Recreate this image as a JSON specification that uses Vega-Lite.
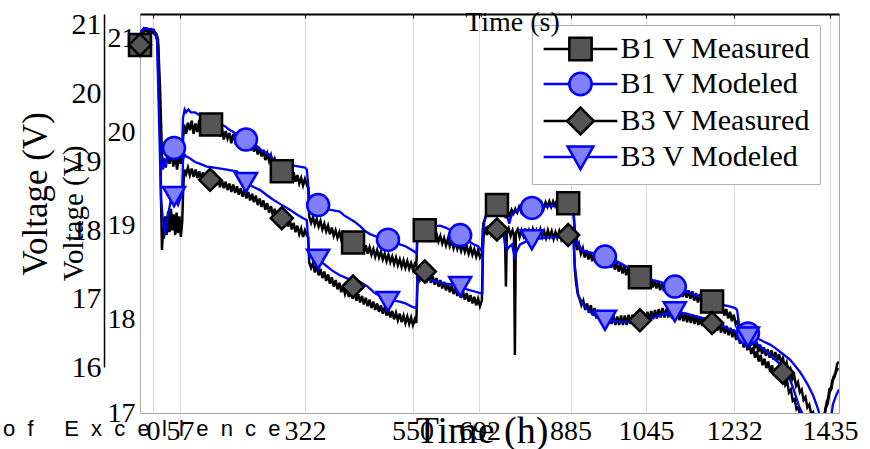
{
"$schema": "https://vega.github.io/schema/vega-lite/v6.json",
"width": 699,
"height": 399,
"autosize": {"type": "none"},
"padding": {"left": 140, "top": 14, "right": 31, "bottom": 36},
"background": "white",
"config": {
  "font": "Liberation Serif",
  "view": {"stroke": "#a8a8a8", "strokeWidth": 1},
  "axis": {"labelColor": "black", "titleColor": "black", "titleFontWeight": "normal", "labelFont": "Liberation Serif", "titleFont": "Liberation Serif"}
},
"title": {"text": "o\u00a0\u00a0f\u00a0\u00a0\u00a0\u00a0\u00a0E\u00a0\u00a0x\u00a0\u00a0c\u00a0\u00a0e\u00a0\u00a0l\u00a0\u00a0l\u00a0\u00a0e\u00a0\u00a0n\u00a0\u00a0c\u00a0\u00a0e", "orient": "bottom", "anchor": "start", "frame": "group", "dx": -137, "offset": -14, "font": "Liberation Sans", "fontSize": 22, "fontWeight": "normal", "color": "black", "baseline": "alphabetic"},
"datasets": {
"b1meas": [
{"t":-27.6,"v":20.93},{"t":-22,"v":21.06},{"t":-16,"v":21.10},{"t":-10,"v":21.08},{"t":-4,"v":21.10},{"t":2,"v":21.07},{"t":7,"v":21.05},{"t":10.6,"v":20.99},{"t":15,"v":20.45},{"t":18,"v":19.92},{"t":19.5,"v":19.65},{"t":23,"v":19.72},{"t":27,"v":19.62},{"t":31,"v":19.78},{"t":35,"v":19.66},{"t":39,"v":19.80},{"t":43,"v":19.63},{"t":47,"v":19.76},{"t":51,"v":19.60},{"t":55,"v":19.75},{"t":59,"v":19.66},{"t":62,"v":19.80},{"t":63.6,"v":19.92},{"t":66,"v":20.08},{"t":70,"v":19.98},{"t":74,"v":20.10},{"t":78,"v":20.02},{"t":82,"v":20.12},{"t":86,"v":19.98},{"t":90,"v":20.09},{"t":94,"v":20.00},{"t":98,"v":20.13},{"t":102,"v":19.97},{"t":106,"v":20.10},{"t":110,"v":20.03},{"t":114,"v":20.11},{"t":118,"v":19.99},{"t":122,"v":20.08},{"t":126,"v":20.02},{"t":130,"v":20.07},{"t":134,"v":19.96},{"t":138,"v":20.05},{"t":142,"v":19.95},{"t":146,"v":20.04},{"t":150,"v":19.92},{"t":154,"v":20.01},{"t":158,"v":19.93},{"t":162,"v":19.99},{"t":166,"v":19.88},{"t":170,"v":19.98},{"t":174,"v":19.90},{"t":178,"v":19.96},{"t":182,"v":19.86},{"t":186,"v":19.95},{"t":190,"v":19.85},{"t":194,"v":19.92},{"t":198,"v":19.82},{"t":202,"v":19.90},{"t":206,"v":19.80},{"t":210,"v":19.88},{"t":214,"v":19.79},{"t":218,"v":19.86},{"t":222,"v":19.76},{"t":226,"v":19.83},{"t":230,"v":19.74},{"t":234,"v":19.81},{"t":238,"v":19.70},{"t":242,"v":19.77},{"t":246,"v":19.69},{"t":250,"v":19.75},{"t":254,"v":19.65},{"t":258,"v":19.71},{"t":262,"v":19.63},{"t":266,"v":19.69},{"t":270,"v":19.58},{"t":274,"v":19.64},{"t":278,"v":19.55},{"t":282,"v":19.62},{"t":286,"v":19.52},{"t":290,"v":19.59},{"t":294,"v":19.50},{"t":298,"v":19.57},{"t":302,"v":19.47},{"t":306,"v":19.54},{"t":310,"v":19.45},{"t":314,"v":19.51},{"t":318,"v":19.43},{"t":322,"v":19.50},{"t":326,"v":19.44},{"t":329,"v":19.40},{"t":331,"v":19.10},{"t":335,"v":19.03},{"t":339,"v":19.09},{"t":343,"v":19.01},{"t":347,"v":19.07},{"t":351,"v":18.99},{"t":355,"v":19.05},{"t":359,"v":18.96},{"t":363,"v":19.02},{"t":367,"v":18.94},{"t":371,"v":19.00},{"t":375,"v":18.91},{"t":379,"v":18.98},{"t":383,"v":18.89},{"t":387,"v":18.95},{"t":391,"v":18.87},{"t":395,"v":18.93},{"t":399,"v":18.85},{"t":403,"v":18.91},{"t":407,"v":18.83},{"t":411,"v":18.89},{"t":415,"v":18.80},{"t":419,"v":18.87},{"t":423,"v":18.79},{"t":427,"v":18.84},{"t":431,"v":18.76},{"t":435,"v":18.83},{"t":439,"v":18.74},{"t":443,"v":18.81},{"t":447,"v":18.72},{"t":451,"v":18.79},{"t":455,"v":18.70},{"t":459,"v":18.77},{"t":463,"v":18.69},{"t":467,"v":18.75},{"t":471,"v":18.67},{"t":475,"v":18.74},{"t":479,"v":18.66},{"t":483,"v":18.72},{"t":487,"v":18.64},{"t":491,"v":18.70},{"t":495,"v":18.62},{"t":499,"v":18.69},{"t":503,"v":18.61},{"t":507,"v":18.67},{"t":511,"v":18.59},{"t":515,"v":18.66},{"t":519,"v":18.58},{"t":523,"v":18.64},{"t":527,"v":18.56},{"t":531,"v":18.63},{"t":535,"v":18.55},{"t":539,"v":18.62},{"t":543,"v":18.54},{"t":547,"v":18.60},{"t":551,"v":18.53},{"t":555,"v":18.59},{"t":558,"v":18.56},{"t":561,"v":18.97},{"t":565,"v":18.92},{"t":569,"v":18.98},{"t":573,"v":18.90},{"t":577,"v":18.96},{"t":581,"v":18.88},{"t":585,"v":18.94},{"t":589,"v":18.86},{"t":593,"v":18.93},{"t":597,"v":18.84},{"t":601,"v":18.91},{"t":605,"v":18.83},{"t":609,"v":18.89},{"t":613,"v":18.81},{"t":617,"v":18.87},{"t":621,"v":18.79},{"t":625,"v":18.86},{"t":629,"v":18.78},{"t":633,"v":18.84},{"t":637,"v":18.76},{"t":641,"v":18.83},{"t":645,"v":18.75},{"t":649,"v":18.81},{"t":653,"v":18.73},{"t":657,"v":18.80},{"t":661,"v":18.72},{"t":665,"v":18.78},{"t":669,"v":18.70},{"t":673,"v":18.77},{"t":677,"v":18.69},{"t":681,"v":18.75},{"t":685,"v":18.67},{"t":689,"v":18.74},{"t":693,"v":18.66},{"t":697,"v":18.70},{"t":700,"v":19.02},{"t":704,"v":19.08},{"t":708,"v":19.15},{"t":712,"v":19.20},{"t":716,"v":19.17},{"t":720,"v":19.24},{"t":724,"v":19.19},{"t":728,"v":19.25},{"t":732,"v":19.20},{"t":736,"v":19.22},{"t":740,"v":19.15},{"t":744,"v":19.18},{"t":748,"v":19.08},{"t":752,"v":19.15},{"t":756,"v":19.11},{"t":760,"v":19.17},{"t":764,"v":19.13},{"t":768,"v":19.18},{"t":772,"v":19.14},{"t":776,"v":19.20},{"t":780,"v":19.15},{"t":784,"v":19.21},{"t":788,"v":19.16},{"t":792,"v":19.22},{"t":796,"v":19.17},{"t":800,"v":19.23},{"t":804,"v":19.18},{"t":808,"v":19.24},{"t":812,"v":19.18},{"t":816,"v":19.25},{"t":820,"v":19.19},{"t":824,"v":19.24},{"t":828,"v":19.18},{"t":832,"v":19.25},{"t":836,"v":19.20},{"t":840,"v":19.26},{"t":844,"v":19.20},{"t":848,"v":19.26},{"t":852,"v":19.21},{"t":856,"v":19.27},{"t":860,"v":19.21},{"t":864,"v":19.26},{"t":868,"v":19.22},{"t":872,"v":19.27},{"t":876,"v":19.21},{"t":880,"v":19.26},{"t":884,"v":19.22},{"t":888,"v":19.23},{"t":891,"v":19.18},{"t":895,"v":18.85},{"t":899,"v":18.74},{"t":903,"v":18.80},{"t":907,"v":18.70},{"t":911,"v":18.76},{"t":915,"v":18.66},{"t":919,"v":18.74},{"t":923,"v":18.64},{"t":927,"v":18.72},{"t":931,"v":18.62},{"t":935,"v":18.70},{"t":939,"v":18.61},{"t":943,"v":18.69},{"t":947,"v":18.60},{"t":951,"v":18.68},{"t":955,"v":18.58},{"t":959,"v":18.67},{"t":963,"v":18.57},{"t":967,"v":18.65},{"t":971,"v":18.55},{"t":975,"v":18.63},{"t":979,"v":18.53},{"t":983,"v":18.61},{"t":987,"v":18.51},{"t":991,"v":18.59},{"t":995,"v":18.49},{"t":999,"v":18.57},{"t":1003,"v":18.47},{"t":1007,"v":18.55},{"t":1011,"v":18.45},{"t":1015,"v":18.53},{"t":1019,"v":18.43},{"t":1023,"v":18.51},{"t":1027,"v":18.41},{"t":1031,"v":18.48},{"t":1035,"v":18.40},{"t":1039,"v":18.47},{"t":1043,"v":18.38},{"t":1047,"v":18.45},{"t":1051,"v":18.36},{"t":1055,"v":18.44},{"t":1059,"v":18.34},{"t":1063,"v":18.42},{"t":1067,"v":18.33},{"t":1071,"v":18.40},{"t":1075,"v":18.31},{"t":1079,"v":18.39},{"t":1083,"v":18.30},{"t":1087,"v":18.37},{"t":1091,"v":18.28},{"t":1095,"v":18.36},{"t":1099,"v":18.27},{"t":1103,"v":18.34},{"t":1107,"v":18.26},{"t":1111,"v":18.34},{"t":1115,"v":18.25},{"t":1119,"v":18.33},{"t":1123,"v":18.24},{"t":1127,"v":18.32},{"t":1131,"v":18.23},{"t":1135,"v":18.31},{"t":1139,"v":18.22},{"t":1143,"v":18.30},{"t":1147,"v":18.20},{"t":1151,"v":18.28},{"t":1155,"v":18.18},{"t":1159,"v":18.27},{"t":1163,"v":18.17},{"t":1167,"v":18.25},{"t":1171,"v":18.15},{"t":1175,"v":18.23},{"t":1179,"v":18.14},{"t":1183,"v":18.22},{"t":1187,"v":18.12},{"t":1191,"v":18.20},{"t":1195,"v":18.10},{"t":1199,"v":18.17},{"t":1203,"v":18.07},{"t":1207,"v":18.14},{"t":1211,"v":18.04},{"t":1215,"v":18.11},{"t":1219,"v":18.01},{"t":1223,"v":18.08},{"t":1227,"v":17.98},{"t":1231,"v":18.05},{"t":1235,"v":17.95},{"t":1239,"v":17.98},{"t":1243,"v":17.86},{"t":1247,"v":17.91},{"t":1251,"v":17.80},{"t":1255,"v":17.87},{"t":1259,"v":17.76},{"t":1263,"v":17.83},{"t":1267,"v":17.72},{"t":1271,"v":17.79},{"t":1275,"v":17.69},{"t":1279,"v":17.76},{"t":1283,"v":17.65},{"t":1287,"v":17.73},{"t":1291,"v":17.63},{"t":1295,"v":17.70},{"t":1299,"v":17.61},{"t":1303,"v":17.68},{"t":1307,"v":17.59},{"t":1311,"v":17.67},{"t":1315,"v":17.57},{"t":1319,"v":17.65},{"t":1323,"v":17.56},{"t":1327,"v":17.63},{"t":1331,"v":17.54},{"t":1335,"v":17.59},{"t":1339,"v":17.49},{"t":1343,"v":17.54},{"t":1347,"v":17.43},{"t":1351,"v":17.47},{"t":1355,"v":17.36},{"t":1359,"v":17.40},{"t":1363,"v":17.29},{"t":1367,"v":17.33},{"t":1371,"v":17.22},{"t":1375,"v":17.25},{"t":1379,"v":17.14},{"t":1383,"v":17.17},{"t":1387,"v":17.06},{"t":1391,"v":17.09},{"t":1395,"v":16.99},{"t":1399,"v":17.01},{"t":1403,"v":16.91},{"t":1407,"v":16.93},{"t":1411,"v":16.83},{"t":1415,"v":16.78},{"t":1419,"v":16.82},{"t":1422,"v":16.93},{"t":1426,"v":17.05},{"t":1430,"v":17.10},{"t":1434,"v":17.22},{"t":1438,"v":17.26},{"t":1442,"v":17.38},{"t":1446,"v":17.42},{"t":1450,"v":17.52},{"t":1453,"v":17.55}
],
"b1mod": [
{"t":-27.6,"v":21.06},{"t":-19,"v":21.11},{"t":-10,"v":21.10},{"t":2,"v":21.09},{"t":8.5,"v":20.99},{"t":12.7,"v":20.34},{"t":17,"v":19.70},{"t":21.2,"v":19.60},{"t":24,"v":19.70},{"t":27.6,"v":19.66},{"t":32,"v":19.74},{"t":36,"v":19.76},{"t":40,"v":19.80},{"t":44.5,"v":19.81},{"t":49,"v":19.78},{"t":53,"v":19.79},{"t":57,"v":19.82},{"t":61.5,"v":19.81},{"t":63.6,"v":20.15},{"t":67,"v":20.24},{"t":70,"v":20.21},{"t":75,"v":20.24},{"t":80,"v":20.21},{"t":89,"v":20.21},{"t":95,"v":20.19},{"t":100,"v":20.18},{"t":110,"v":20.15},{"t":120,"v":20.14},{"t":131,"v":20.13},{"t":140,"v":20.09},{"t":153,"v":20.06},{"t":160,"v":20.03},{"t":174,"v":19.99},{"t":185,"v":19.95},{"t":197,"v":19.92},{"t":205,"v":19.90},{"t":213,"v":19.86},{"t":223,"v":19.84},{"t":230,"v":19.80},{"t":240,"v":19.78},{"t":248,"v":19.75},{"t":255,"v":19.71},{"t":262,"v":19.69},{"t":273,"v":19.68},{"t":285,"v":19.66},{"t":299,"v":19.64},{"t":310,"v":19.63},{"t":322,"v":19.62},{"t":326,"v":19.60},{"t":331,"v":19.32},{"t":340,"v":19.27},{"t":350,"v":19.22},{"t":360,"v":19.20},{"t":375,"v":19.17},{"t":385,"v":19.16},{"t":396,"v":19.15},{"t":405,"v":19.11},{"t":415,"v":19.08},{"t":428,"v":19.04},{"t":440,"v":18.99},{"t":450,"v":18.94},{"t":460,"v":18.91},{"t":470,"v":18.89},{"t":480,"v":18.87},{"t":498,"v":18.85},{"t":510,"v":18.82},{"t":523,"v":18.80},{"t":535,"v":18.78},{"t":545,"v":18.75},{"t":555,"v":18.72},{"t":559,"v":18.70},{"t":560,"v":18.93},{"t":568,"v":18.96},{"t":576,"v":18.98},{"t":590,"v":18.99},{"t":608,"v":19.00},{"t":620,"v":18.98},{"t":635,"v":18.94},{"t":651,"v":18.90},{"t":665,"v":18.85},{"t":680,"v":18.80},{"t":689,"v":18.78},{"t":695,"v":18.74},{"t":699,"v":18.74},{"t":702,"v":19.04},{"t":706,"v":19.10},{"t":710,"v":19.12},{"t":720,"v":19.13},{"t":735,"v":19.13},{"t":746,"v":19.13},{"t":752,"v":19.08},{"t":755,"v":19.02},{"t":758,"v":19.08},{"t":761,"v":19.12},{"t":766,"v":19.14},{"t":772,"v":19.17},{"t":785,"v":19.18},{"t":803,"v":19.19},{"t":820,"v":19.20},{"t":841,"v":19.21},{"t":860,"v":19.21},{"t":884,"v":19.22},{"t":890,"v":19.20},{"t":894,"v":18.96},{"t":901,"v":18.80},{"t":911,"v":18.73},{"t":930,"v":18.71},{"t":945,"v":18.69},{"t":958,"v":18.67},{"t":975,"v":18.64},{"t":990,"v":18.60},{"t":1005,"v":18.56},{"t":1020,"v":18.50},{"t":1032,"v":18.46},{"t":1050,"v":18.43},{"t":1075,"v":18.40},{"t":1090,"v":18.37},{"t":1106,"v":18.35},{"t":1125,"v":18.31},{"t":1140,"v":18.28},{"t":1159,"v":18.24},{"t":1180,"v":18.20},{"t":1202,"v":18.16},{"t":1220,"v":18.14},{"t":1234,"v":18.12},{"t":1238,"v":18.10},{"t":1242,"v":17.95},{"t":1246,"v":17.88},{"t":1255,"v":17.86},{"t":1265,"v":17.83},{"t":1280,"v":17.80},{"t":1295,"v":17.76},{"t":1308,"v":17.73},{"t":1320,"v":17.69},{"t":1335,"v":17.63},{"t":1350,"v":17.57},{"t":1360,"v":17.51},{"t":1371,"v":17.44},{"t":1380,"v":17.37},{"t":1388,"v":17.30},{"t":1395,"v":17.23},{"t":1399,"v":17.19},{"t":1404,"v":17.12},{"t":1409,"v":17.05},{"t":1416,"v":16.93},{"t":1424,"v":16.75},{"t":1430,"v":16.80},{"t":1435,"v":16.87},{"t":1441,"v":17.09},{"t":1448,"v":17.19},{"t":1454,"v":17.25}
],
"b3meas": [
{"t":-27.6,"v":20.93},{"t":-22,"v":21.04},{"t":-16,"v":21.09},{"t":-10,"v":21.06},{"t":-4,"v":21.08},{"t":2,"v":21.05},{"t":7,"v":21.03},{"t":10.6,"v":20.93},{"t":15,"v":20.13},{"t":17,"v":19.28},{"t":19,"v":18.74},{"t":21,"v":18.98},{"t":23,"v":18.86},{"t":26,"v":19.10},{"t":29,"v":18.90},{"t":32,"v":19.15},{"t":35,"v":18.93},{"t":38,"v":19.18},{"t":41,"v":18.95},{"t":44,"v":19.12},{"t":47,"v":18.90},{"t":50,"v":19.14},{"t":53,"v":18.92},{"t":56,"v":19.10},{"t":59,"v":18.88},{"t":62,"v":19.05},{"t":63.6,"v":19.33},{"t":66,"v":19.60},{"t":70,"v":19.55},{"t":74,"v":19.62},{"t":78,"v":19.54},{"t":82,"v":19.61},{"t":86,"v":19.52},{"t":90,"v":19.60},{"t":94,"v":19.51},{"t":98,"v":19.58},{"t":102,"v":19.49},{"t":106,"v":19.57},{"t":110,"v":19.48},{"t":114,"v":19.55},{"t":118,"v":19.46},{"t":122,"v":19.53},{"t":126,"v":19.44},{"t":130,"v":19.52},{"t":134,"v":19.43},{"t":138,"v":19.50},{"t":142,"v":19.41},{"t":146,"v":19.49},{"t":150,"v":19.40},{"t":154,"v":19.47},{"t":158,"v":19.38},{"t":162,"v":19.45},{"t":166,"v":19.36},{"t":170,"v":19.44},{"t":174,"v":19.35},{"t":178,"v":19.42},{"t":182,"v":19.33},{"t":186,"v":19.40},{"t":190,"v":19.31},{"t":194,"v":19.38},{"t":198,"v":19.29},{"t":202,"v":19.36},{"t":206,"v":19.27},{"t":210,"v":19.34},{"t":214,"v":19.25},{"t":218,"v":19.32},{"t":222,"v":19.22},{"t":226,"v":19.29},{"t":230,"v":19.20},{"t":234,"v":19.27},{"t":238,"v":19.17},{"t":242,"v":19.24},{"t":246,"v":19.14},{"t":250,"v":19.21},{"t":254,"v":19.11},{"t":258,"v":19.18},{"t":262,"v":19.08},{"t":266,"v":19.15},{"t":270,"v":19.05},{"t":274,"v":19.12},{"t":278,"v":19.02},{"t":282,"v":19.09},{"t":286,"v":18.99},{"t":290,"v":19.06},{"t":294,"v":18.96},{"t":298,"v":19.03},{"t":302,"v":18.93},{"t":306,"v":19.00},{"t":310,"v":18.91},{"t":314,"v":18.97},{"t":318,"v":18.88},{"t":322,"v":18.95},{"t":326,"v":18.90},{"t":329,"v":18.88},{"t":331,"v":18.61},{"t":335,"v":18.55},{"t":339,"v":18.60},{"t":343,"v":18.50},{"t":347,"v":18.57},{"t":351,"v":18.47},{"t":355,"v":18.54},{"t":359,"v":18.44},{"t":363,"v":18.51},{"t":367,"v":18.41},{"t":371,"v":18.48},{"t":375,"v":18.38},{"t":379,"v":18.45},{"t":383,"v":18.35},{"t":387,"v":18.42},{"t":391,"v":18.32},{"t":395,"v":18.39},{"t":399,"v":18.29},{"t":403,"v":18.36},{"t":407,"v":18.27},{"t":411,"v":18.33},{"t":415,"v":18.24},{"t":419,"v":18.31},{"t":423,"v":18.22},{"t":427,"v":18.29},{"t":431,"v":18.20},{"t":435,"v":18.27},{"t":439,"v":18.18},{"t":443,"v":18.25},{"t":447,"v":18.16},{"t":451,"v":18.23},{"t":455,"v":18.14},{"t":459,"v":18.21},{"t":463,"v":18.12},{"t":467,"v":18.19},{"t":471,"v":18.10},{"t":475,"v":18.17},{"t":479,"v":18.08},{"t":483,"v":18.15},{"t":487,"v":18.06},{"t":491,"v":18.13},{"t":495,"v":18.04},{"t":499,"v":18.11},{"t":503,"v":18.02},{"t":507,"v":18.09},{"t":511,"v":18.00},{"t":515,"v":18.07},{"t":519,"v":17.99},{"t":523,"v":18.06},{"t":527,"v":17.97},{"t":531,"v":18.04},{"t":535,"v":17.96},{"t":539,"v":18.03},{"t":543,"v":17.95},{"t":547,"v":18.02},{"t":551,"v":17.94},{"t":555,"v":18.00},{"t":558,"v":17.96},{"t":561,"v":18.47},{"t":565,"v":18.42},{"t":569,"v":18.50},{"t":573,"v":18.44},{"t":577,"v":18.52},{"t":581,"v":18.42},{"t":585,"v":18.48},{"t":589,"v":18.39},{"t":593,"v":18.46},{"t":597,"v":18.37},{"t":601,"v":18.44},{"t":605,"v":18.35},{"t":609,"v":18.42},{"t":613,"v":18.33},{"t":617,"v":18.40},{"t":621,"v":18.31},{"t":625,"v":18.38},{"t":629,"v":18.29},{"t":633,"v":18.36},{"t":637,"v":18.27},{"t":641,"v":18.34},{"t":645,"v":18.25},{"t":649,"v":18.32},{"t":653,"v":18.23},{"t":657,"v":18.30},{"t":661,"v":18.21},{"t":665,"v":18.28},{"t":669,"v":18.19},{"t":673,"v":18.26},{"t":677,"v":18.17},{"t":681,"v":18.24},{"t":685,"v":18.15},{"t":689,"v":18.22},{"t":693,"v":18.14},{"t":697,"v":18.20},{"t":700,"v":18.88},{"t":704,"v":18.97},{"t":708,"v":18.90},{"t":712,"v":18.99},{"t":716,"v":18.92},{"t":720,"v":19.00},{"t":724,"v":18.93},{"t":728,"v":18.99},{"t":732,"v":18.92},{"t":736,"v":18.98},{"t":740,"v":18.91},{"t":744,"v":18.96},{"t":746,"v":18.92},{"t":748,"v":18.35},{"t":750,"v":18.92},{"t":754,"v":18.97},{"t":758,"v":18.89},{"t":762,"v":18.95},{"t":765,"v":18.90},{"t":767,"v":17.62},{"t":769,"v":18.92},{"t":773,"v":18.96},{"t":777,"v":18.88},{"t":781,"v":18.95},{"t":785,"v":18.89},{"t":789,"v":18.97},{"t":793,"v":18.88},{"t":797,"v":18.95},{"t":801,"v":18.89},{"t":805,"v":18.96},{"t":809,"v":18.88},{"t":813,"v":18.95},{"t":817,"v":18.89},{"t":821,"v":18.96},{"t":825,"v":18.88},{"t":829,"v":18.94},{"t":833,"v":18.87},{"t":837,"v":18.95},{"t":841,"v":18.88},{"t":845,"v":18.94},{"t":849,"v":18.86},{"t":853,"v":18.93},{"t":857,"v":18.87},{"t":861,"v":18.94},{"t":865,"v":18.86},{"t":869,"v":18.93},{"t":873,"v":18.86},{"t":877,"v":18.92},{"t":881,"v":18.85},{"t":885,"v":18.91},{"t":889,"v":18.84},{"t":892,"v":18.82},{"t":894,"v":18.53},{"t":897,"v":18.38},{"t":900,"v":18.28},{"t":904,"v":18.22},{"t":908,"v":18.15},{"t":912,"v":18.20},{"t":916,"v":18.10},{"t":920,"v":18.17},{"t":924,"v":18.07},{"t":928,"v":18.15},{"t":932,"v":18.04},{"t":936,"v":18.12},{"t":940,"v":18.01},{"t":944,"v":18.10},{"t":948,"v":17.99},{"t":952,"v":18.08},{"t":956,"v":17.97},{"t":960,"v":18.06},{"t":964,"v":17.96},{"t":968,"v":18.05},{"t":972,"v":17.95},{"t":976,"v":18.04},{"t":980,"v":17.94},{"t":984,"v":18.03},{"t":988,"v":17.94},{"t":992,"v":18.04},{"t":996,"v":17.94},{"t":1000,"v":18.04},{"t":1004,"v":17.94},{"t":1008,"v":18.05},{"t":1012,"v":17.95},{"t":1016,"v":18.05},{"t":1020,"v":17.95},{"t":1024,"v":18.06},{"t":1028,"v":17.96},{"t":1032,"v":18.04},{"t":1036,"v":17.97},{"t":1040,"v":18.07},{"t":1044,"v":17.98},{"t":1048,"v":18.08},{"t":1052,"v":17.99},{"t":1056,"v":18.09},{"t":1060,"v":18.00},{"t":1064,"v":18.10},{"t":1068,"v":18.01},{"t":1072,"v":18.11},{"t":1076,"v":18.02},{"t":1080,"v":18.12},{"t":1084,"v":18.02},{"t":1088,"v":18.11},{"t":1092,"v":18.02},{"t":1096,"v":18.10},{"t":1100,"v":18.01},{"t":1104,"v":18.10},{"t":1108,"v":18.00},{"t":1112,"v":18.09},{"t":1116,"v":17.99},{"t":1120,"v":18.08},{"t":1124,"v":17.98},{"t":1128,"v":18.07},{"t":1132,"v":17.97},{"t":1136,"v":18.06},{"t":1140,"v":17.96},{"t":1144,"v":18.05},{"t":1148,"v":17.95},{"t":1152,"v":18.04},{"t":1156,"v":17.94},{"t":1160,"v":18.03},{"t":1164,"v":17.93},{"t":1168,"v":18.02},{"t":1172,"v":17.92},{"t":1176,"v":18.01},{"t":1180,"v":17.91},{"t":1184,"v":17.99},{"t":1188,"v":17.90},{"t":1192,"v":17.98},{"t":1196,"v":17.88},{"t":1200,"v":17.96},{"t":1204,"v":17.86},{"t":1208,"v":17.95},{"t":1212,"v":17.85},{"t":1216,"v":17.93},{"t":1220,"v":17.83},{"t":1224,"v":17.91},{"t":1228,"v":17.81},{"t":1232,"v":17.89},{"t":1236,"v":17.78},{"t":1240,"v":17.86},{"t":1244,"v":17.74},{"t":1248,"v":17.82},{"t":1252,"v":17.70},{"t":1256,"v":17.78},{"t":1260,"v":17.67},{"t":1264,"v":17.74},{"t":1268,"v":17.63},{"t":1272,"v":17.70},{"t":1276,"v":17.59},{"t":1280,"v":17.66},{"t":1284,"v":17.55},{"t":1288,"v":17.62},{"t":1292,"v":17.51},{"t":1296,"v":17.58},{"t":1300,"v":17.48},{"t":1304,"v":17.55},{"t":1308,"v":17.44},{"t":1312,"v":17.51},{"t":1316,"v":17.40},{"t":1320,"v":17.47},{"t":1324,"v":17.37},{"t":1328,"v":17.44},{"t":1332,"v":17.34},{"t":1336,"v":17.41},{"t":1340,"v":17.30},{"t":1344,"v":17.34},{"t":1348,"v":17.22},{"t":1352,"v":17.25},{"t":1356,"v":17.13},{"t":1360,"v":17.15},{"t":1364,"v":17.04},{"t":1368,"v":17.06},{"t":1372,"v":16.96},{"t":1376,"v":16.97},{"t":1380,"v":16.88},{"t":1390,"v":16.75},{"t":1405,"v":16.70},{"t":1418,"v":16.82},{"t":1421,"v":16.95},{"t":1424,"v":17.01},{"t":1428,"v":17.12},{"t":1431,"v":17.16},{"t":1434,"v":17.26},{"t":1437,"v":17.27},{"t":1440,"v":17.35},{"t":1444,"v":17.38},{"t":1448,"v":17.44},{"t":1452,"v":17.48}
],
"b3mod": [
{"t":-27.6,"v":21.06},{"t":-19,"v":21.11},{"t":-10,"v":21.10},{"t":2,"v":21.09},{"t":8.5,"v":20.99},{"t":12.7,"v":20.13},{"t":17,"v":19.28},{"t":21,"v":19.06},{"t":25.4,"v":18.90},{"t":28,"v":19.00},{"t":31.8,"v":19.12},{"t":35,"v":19.20},{"t":38,"v":19.28},{"t":44.5,"v":19.31},{"t":49,"v":19.26},{"t":53,"v":19.22},{"t":57,"v":19.28},{"t":61.5,"v":19.33},{"t":63.6,"v":19.70},{"t":67,"v":19.76},{"t":70,"v":19.74},{"t":78,"v":19.72},{"t":89,"v":19.68},{"t":100,"v":19.66},{"t":114,"v":19.63},{"t":130,"v":19.62},{"t":153,"v":19.60},{"t":165,"v":19.59},{"t":178,"v":19.58},{"t":185,"v":19.52},{"t":197,"v":19.46},{"t":210,"v":19.42},{"t":227,"v":19.38},{"t":240,"v":19.33},{"t":254,"v":19.28},{"t":270,"v":19.23},{"t":290,"v":19.17},{"t":305,"v":19.12},{"t":318,"v":19.08},{"t":326,"v":19.06},{"t":331,"v":18.67},{"t":340,"v":18.66},{"t":350,"v":18.64},{"t":365,"v":18.58},{"t":380,"v":18.52},{"t":396,"v":18.47},{"t":415,"v":18.43},{"t":439,"v":18.40},{"t":455,"v":18.35},{"t":470,"v":18.28},{"t":485,"v":18.24},{"t":498,"v":18.21},{"t":510,"v":18.20},{"t":523,"v":18.19},{"t":535,"v":18.17},{"t":551,"v":18.13},{"t":559,"v":18.12},{"t":560,"v":18.45},{"t":570,"v":18.44},{"t":587,"v":18.42},{"t":605,"v":18.40},{"t":620,"v":18.38},{"t":635,"v":18.37},{"t":651,"v":18.35},{"t":665,"v":18.32},{"t":680,"v":18.30},{"t":693,"v":18.28},{"t":698,"v":18.28},{"t":699,"v":18.96},{"t":710,"v":18.99},{"t":722,"v":19.02},{"t":735,"v":19.03},{"t":742,"v":18.95},{"t":746,"v":18.80},{"t":750,"v":18.74},{"t":756,"v":18.78},{"t":761,"v":18.80},{"t":765,"v":18.70},{"t":767,"v":18.64},{"t":770,"v":18.72},{"t":778,"v":18.80},{"t":790,"v":18.83},{"t":803,"v":18.85},{"t":830,"v":18.87},{"t":863,"v":18.88},{"t":888,"v":18.89},{"t":891,"v":18.87},{"t":894,"v":18.58},{"t":898,"v":18.40},{"t":901,"v":18.26},{"t":910,"v":18.17},{"t":926,"v":18.08},{"t":940,"v":18.03},{"t":958,"v":17.99},{"t":975,"v":17.98},{"t":1000,"v":17.97},{"t":1020,"v":17.98},{"t":1043,"v":17.99},{"t":1060,"v":18.02},{"t":1080,"v":18.05},{"t":1106,"v":18.08},{"t":1130,"v":18.06},{"t":1159,"v":18.02},{"t":1180,"v":17.98},{"t":1202,"v":17.94},{"t":1220,"v":17.90},{"t":1240,"v":17.86},{"t":1261,"v":17.81},{"t":1280,"v":17.74},{"t":1297,"v":17.67},{"t":1310,"v":17.61},{"t":1325,"v":17.54},{"t":1340,"v":17.46},{"t":1350,"v":17.36},{"t":1358,"v":17.25},{"t":1365,"v":17.14},{"t":1370,"v":17.06},{"t":1376,"v":17.00},{"t":1384,"v":16.87},{"t":1403,"v":16.66}
],
"markers": [
{"series":"B1 V Measured","t":-27.6,"v":20.93},{"series":"B1 V Measured","t":123,"v":20.08},{"series":"B1 V Measured","t":273,"v":19.58},{"series":"B1 V Measured","t":424,"v":18.82},{"series":"B1 V Measured","t":576,"v":18.95},{"series":"B1 V Measured","t":729,"v":19.22},{"series":"B1 V Measured","t":880,"v":19.24},{"series":"B1 V Measured","t":1032,"v":18.45},{"series":"B1 V Measured","t":1185,"v":18.19},
{"series":"B1 V Modeled","t":44.5,"v":19.83},{"series":"B1 V Modeled","t":197,"v":19.92},{"series":"B1 V Modeled","t":350,"v":19.22},{"series":"B1 V Modeled","t":498,"v":18.85},{"series":"B1 V Modeled","t":651,"v":18.90},{"series":"B1 V Modeled","t":803,"v":19.19},{"series":"B1 V Modeled","t":958,"v":18.67},{"series":"B1 V Modeled","t":1106,"v":18.35},{"series":"B1 V Modeled","t":1261,"v":17.85},
{"series":"B3 V Measured","t":-27.6,"v":20.93},{"series":"B3 V Measured","t":121,"v":19.49},{"series":"B3 V Measured","t":273,"v":19.08},{"series":"B3 V Measured","t":424,"v":18.35},{"series":"B3 V Measured","t":576,"v":18.51},{"series":"B3 V Measured","t":729,"v":18.96},{"series":"B3 V Measured","t":880,"v":18.90},{"series":"B3 V Measured","t":1032,"v":17.99},{"series":"B3 V Measured","t":1185,"v":17.96},{"series":"B3 V Measured","t":1335,"v":17.43},
{"series":"B3 V Modeled","t":44.5,"v":19.31},{"series":"B3 V Modeled","t":197,"v":19.46},{"series":"B3 V Modeled","t":350,"v":18.64},{"series":"B3 V Modeled","t":498,"v":18.19},{"series":"B3 V Modeled","t":651,"v":18.35},{"series":"B3 V Modeled","t":803,"v":18.85},{"series":"B3 V Modeled","t":958,"v":17.99},{"series":"B3 V Modeled","t":1106,"v":18.08},{"series":"B3 V Modeled","t":1261,"v":17.81}
]
},
"layer": [
  {
    "encoding": {
      "x": {"field": "t", "type": "quantitative", "scale": {"domain": [-27.6, 1454], "nice": false, "zero": false},
        "axis": {"orient": "bottom", "values": [0, 57, 322, 550, 692, 885, 1045, 1232, 1435], "format": "d", "title": "Time (h)", "grid": true, "gridColor": "#dcdcdc", "ticks": false, "domain": false, "labelFontSize": 28, "labelPadding": 4, "labelOverlap": false, "labelFlush": false, "titleFontSize": 38, "titleX": 341.5, "titleY": 29, "titleBaseline": "alphabetic"}},
      "y": {"field": "v", "type": "quantitative", "scale": {"domain": [17, 21.26], "nice": false, "zero": false},
        "axis": {"orient": "left", "values": [17, 18, 19, 20, 21], "title": "Voltage (V)", "grid": false, "ticks": false, "domain": false, "labelFontSize": 28, "labelPadding": 5, "titleFontSize": 29, "titleX": -58, "titleY": 199, "titleBaseline": "alphabetic"}}
    },
    "layer": [
      {"data": {"name": "b1meas"}, "mark": {"type": "line", "stroke": "black", "strokeWidth": 2.5, "clip": true}},
      {"data": {"name": "b1mod"}, "mark": {"type": "line", "stroke": "#0000ff", "strokeWidth": 2.3, "clip": true}},
      {"data": {"name": "b3meas"}, "mark": {"type": "line", "stroke": "black", "strokeWidth": 2.5, "clip": true}},
      {"data": {"name": "b3mod"}, "mark": {"type": "line", "stroke": "#0000ff", "strokeWidth": 2.3, "clip": true}},
      {"data": {"name": "markers"}, "mark": {"type": "point", "filled": true, "opacity": 1, "strokeWidth": 2.5},
        "encoding": {
          "shape": {"field": "series", "type": "nominal", "scale": {"domain": ["B1 V Measured", "B1 V Modeled", "B3 V Measured", "B3 V Modeled"], "range": ["square", "circle", "diamond", "triangle-down"]}, "legend": null},
          "fill": {"field": "series", "type": "nominal", "scale": {"domain": ["B1 V Measured", "B1 V Modeled", "B3 V Measured", "B3 V Modeled"], "range": ["#555555", "#8080ff", "#555555", "#8080ff"]}, "legend": null},
          "stroke": {"field": "series", "type": "nominal", "scale": {"domain": ["B1 V Measured", "B1 V Modeled", "B3 V Measured", "B3 V Modeled"], "range": ["black", "#0000ff", "black", "#0000ff"]}, "legend": null},
          "size": {"field": "series", "type": "nominal", "scale": {"domain": ["B1 V Measured", "B1 V Modeled", "B3 V Measured", "B3 V Modeled"], "range": [484, 484, 520, 650]}, "legend": null}
        }}
    ]
  },
  {
    "data": {"name": "markers"},
    "mark": {"type": "point", "filled": true, "opacity": 0, "strokeWidth": 2.5},
    "encoding": {
      "x": {"field": "t", "type": "quantitative", "scale": {"domain": [-27.6, 1454], "nice": false, "zero": false},
        "axis": {"orient": "top", "zindex": 2, "values": [0, 57, 322, 550, 692, 885, 1045, 1232, 1435], "labels": false, "title": "Time (s)", "grid": false, "domainColor": "black", "domainWidth": 2, "ticks": true, "tickSize": -4, "tickColor": "black", "titleFontSize": 28, "titleX": 372, "titleY": 16, "titleBaseline": "alphabetic"}},
      "y": {"field": "v", "type": "quantitative", "scale": {"domain": [16, 21.16], "range": [353, 0], "nice": false, "zero": false},
        "axis": {"orient": "left", "offset": 36, "values": [16, 17, 18, 19, 20, 21], "title": "Voltage (V)", "grid": false, "ticks": false, "domainColor": "black", "domainWidth": 1.5, "labelFontSize": 30, "labelPadding": 3, "titleFontSize": 35, "titleX": -58, "titleY": 179.5, "titleBaseline": "alphabetic"}},
      "shape": {"field": "series", "type": "nominal", "scale": {"domain": ["B1 V Measured", "B1 V Modeled", "B3 V Measured", "B3 V Modeled"], "range": ["M-3.3,0H-1M1,0H3.3M-1,-1H1V1H-1Z", "M-3.3,0H-1M1,0H3.3M-1,0A1,1,0,1,1,1,0A1,1,0,1,1,-1,0Z", "M-3.3,0H-1.2M1.2,0H3.3M0,-1.2L1.2,0L0,1.2L-1.2,0Z", "M-3.3,0H-0.62M0.62,0H3.3M-1.15,-0.95H1.15L0,1.1Z"]},
        "legend": {"orient": "none", "legendX": 392, "legendY": 11, "title": null, "fillColor": "white", "strokeColor": "#b0b0b0", "padding": 9, "symbolSize": 500, "symbolStrokeWidth": 2.5, "symbolOffset": 24.5, "labelOffset": 25, "labelFont": "Liberation Serif", "labelFontSize": 30, "labelColor": "black", "rowPadding": 1, "symbolOpacity": 1, "labelLimit": 400}},
      "fill": {"field": "series", "type": "nominal", "scale": {"domain": ["B1 V Measured", "B1 V Modeled", "B3 V Measured", "B3 V Modeled"], "range": ["#555555", "#8080ff", "#555555", "#8080ff"]}},
      "stroke": {"field": "series", "type": "nominal", "scale": {"domain": ["B1 V Measured", "B1 V Modeled", "B3 V Measured", "B3 V Modeled"], "range": ["black", "#0000ff", "black", "#0000ff"]}}
    }
  }
],
"resolve": {"scale": {"x": "independent", "y": "independent", "shape": "independent", "fill": "independent", "stroke": "independent", "size": "independent"}}
}
